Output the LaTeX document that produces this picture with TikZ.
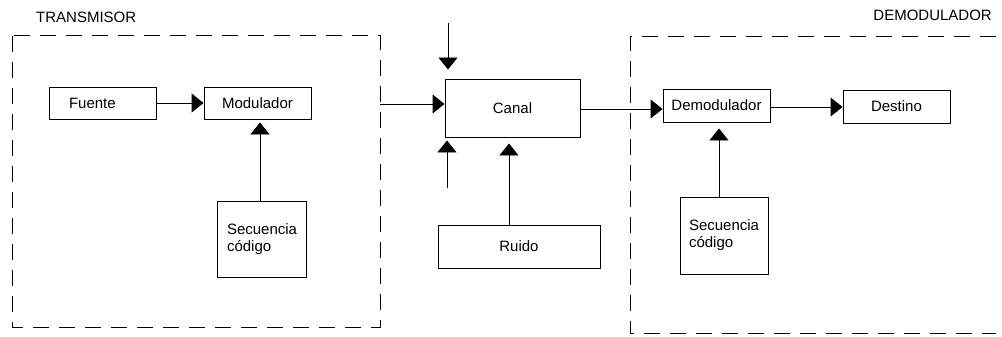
\documentclass[tikz,border=0pt]{standalone}
\usepackage{fontspec}
\setmainfont{Liberation Sans}
\usetikzlibrary{arrows.meta,calc}
\begin{document}
\begin{tikzpicture}[x=1pt,y=-1pt,
  every node/.style={font=\fontsize{15}{17}\selectfont},
  blk/.style={draw,line width=0.9pt,inner sep=0pt,align=center},
  lblk/.style={draw,line width=0.9pt,inner ysep=0pt,align=left},
  frame/.style={line width=1pt,dash pattern=on 16pt off 10pt},
  arr/.style={line width=0.9pt,-{Triangle[length=12pt,width=19pt]}},
  ln/.style={line width=0.9pt}]
\useasboundingbox (0,0) rectangle (1002,337);
% frames
\draw[frame] (12,36) rectangle (380,327);
\draw[frame] (996,37) -- (630,37) -- (630,333) -- (996,333);
\node[anchor=west,inner sep=0pt] (ttx) at (36,17) {TRANSMISOR};
\node[anchor=east,inner sep=0pt] (trx) at (992,15) {DEMODULADOR};
% blocks
\node[lblk,inner xsep=20pt,text width=67pt,minimum height=32pt] (fuente) at (102.5,103) {Fuente};
\node[blk,minimum width=107pt,minimum height=32pt] (mod) at (257.5,103) {Modulador};
\node[lblk,inner xsep=10pt,text width=69pt,minimum height=76pt] (sec1) at (261.5,239) {Secuencia\\código};
\node[blk,minimum width=135pt,minimum height=58pt] (canal) at (512.5,108) {Canal};
\node[blk,minimum width=162pt,minimum height=43pt] (ruido) at (519,246.5) {Ruido};
\node[blk,minimum width=107pt,minimum height=33pt] (demod) at (716.5,105.5) {Demodulador};
\node[blk,minimum width=107pt,minimum height=33pt] (dest) at (896.5,106.5) {Destino};
\node[lblk,inner xsep=9pt,text width=70pt,minimum height=77pt] (sec2) at (724,235.5) {Secuencia\\código};
% free ends
\coordinate (tx) at (380,104);
\coordinate (n1) at (448,23);
\coordinate (n2) at (447,188);
% connectors
\draw[arr] (fuente.east) -- (mod.west);
\draw[arr,shorten >=3pt] ([xshift=-1.5pt]sec1.north) -- ([xshift=-1.5pt]sec1.north |- mod.south);
\draw[arr] (tx) -- (tx -| canal.west);
\draw[arr,shorten >=9pt] (n1) -- (n1 |- canal.north);
\draw[arr,shorten >=3pt] (n2) -- (n2 |- canal.south);
\draw[arr,shorten >=6pt] ([xshift=-10pt]ruido.north) -- ([xshift=-10pt]ruido.north |- canal.south);
\draw[arr] ([yshift=-1pt]canal.east) -- ([yshift=-1pt]canal.east -| demod.west);
\draw[arr] ([yshift=-1.5pt]demod.east) -- ([yshift=-1.5pt]demod.east -| dest.west);
\draw[arr,shorten >=6pt] ([xshift=-5pt]sec2.north) -- ([xshift=-5pt]sec2.north |- demod.south);
\end{tikzpicture}
\end{document}
